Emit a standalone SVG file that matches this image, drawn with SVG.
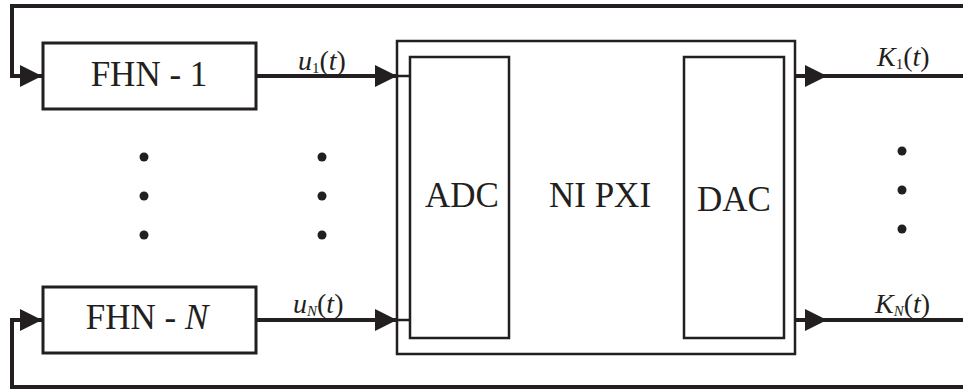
<svg xmlns="http://www.w3.org/2000/svg" width="963" height="391" viewBox="0 0 963 391">
<style>
.box{fill:#fff;stroke:#231f20;stroke-width:3}
.thin{fill:none;stroke:#231f20;stroke-width:2.5}
.wire{fill:none;stroke:#231f20;stroke-width:4}
.lbl{font-family:"Liberation Serif","Times New Roman",serif;fill:#231f20}
.big{font-size:35px}
.sig{font-size:28px}
.it{font-style:italic}
.dot{fill:#231f20}
</style>
<defs>
<marker id="ah" markerUnits="userSpaceOnUse" markerWidth="22" markerHeight="22" refX="22" refY="11" orient="auto">
<path d="M0,0 L22,11 L0,22 Z" fill="#231f20"/>
</marker>
</defs>
<rect width="963" height="391" fill="#fff"/>
<g id="connectors">
<path class="wire" d="M963,6 H12 V76 H42" marker-end="url(#ah)"/>
<path class="wire" d="M963,387 H12 V320 H42" marker-end="url(#ah)"/>
<path class="wire" d="M256,76 H397" marker-end="url(#ah)"/>
<path class="wire" d="M256,320 H397" marker-end="url(#ah)"/>
<path class="thin" d="M397,76 H410 M397,320 H410"/>
<path class="wire" d="M795,76 H827 H963" marker-mid="url(#ah)"/>
<path class="wire" d="M795,320 H827 H963" marker-mid="url(#ah)"/>
</g>
<g id="fhn1">
<rect class="box" x="43" y="43" width="213" height="66"/>
<text class="lbl big" x="149" y="86" text-anchor="middle">FHN - 1</text>
</g>
<g id="fhnN">
<rect class="box" x="43" y="287" width="213" height="66"/>
<text class="lbl big" x="147" y="329" text-anchor="middle">FHN - <tspan class="it">N</tspan></text>
</g>
<g id="nipxi">
<rect class="thin" x="397" y="41" width="398" height="313"/>
<text class="lbl big" x="600" y="207" text-anchor="middle">NI PXI</text>
</g>
<g id="adc">
<rect class="thin" x="410" y="57" width="99" height="281"/>
<text class="lbl big" x="462" y="207" text-anchor="middle">ADC</text>
</g>
<g id="dac">
<rect class="thin" x="684" y="57" width="100" height="281"/>
<text class="lbl big" x="734" y="211" text-anchor="middle">DAC</text>
</g>
<g id="labels">
<text class="lbl sig" x="298" y="70"><tspan class="it">u</tspan><tspan font-size="15" dy="3">1</tspan><tspan dy="-3">(</tspan><tspan class="it">t</tspan>)</text>
<text class="lbl sig" x="293" y="313"><tspan class="it">u</tspan><tspan class="it" font-size="15" dy="3">N</tspan><tspan dy="-3">(</tspan><tspan class="it">t</tspan>)</text>
<text class="lbl sig" x="877" y="66"><tspan class="it">K</tspan><tspan font-size="15" dy="3">1</tspan><tspan dy="-3">(</tspan><tspan class="it">t</tspan>)</text>
<text class="lbl sig" x="875" y="313"><tspan class="it">K</tspan><tspan class="it" font-size="15" dy="3">N</tspan><tspan dy="-3">(</tspan><tspan class="it">t</tspan>)</text>
</g>
<g id="dots">
<circle class="dot" cx="144" cy="157" r="4.5"/>
<circle class="dot" cx="144" cy="196" r="4.5"/>
<circle class="dot" cx="144" cy="235" r="4.5"/>
<circle class="dot" cx="322" cy="157" r="4.5"/>
<circle class="dot" cx="322" cy="196" r="4.5"/>
<circle class="dot" cx="322" cy="235" r="4.5"/>
<circle class="dot" cx="902" cy="151" r="4.5"/>
<circle class="dot" cx="902" cy="190" r="4.5"/>
<circle class="dot" cx="902" cy="229" r="4.5"/>
</g>
</svg>
